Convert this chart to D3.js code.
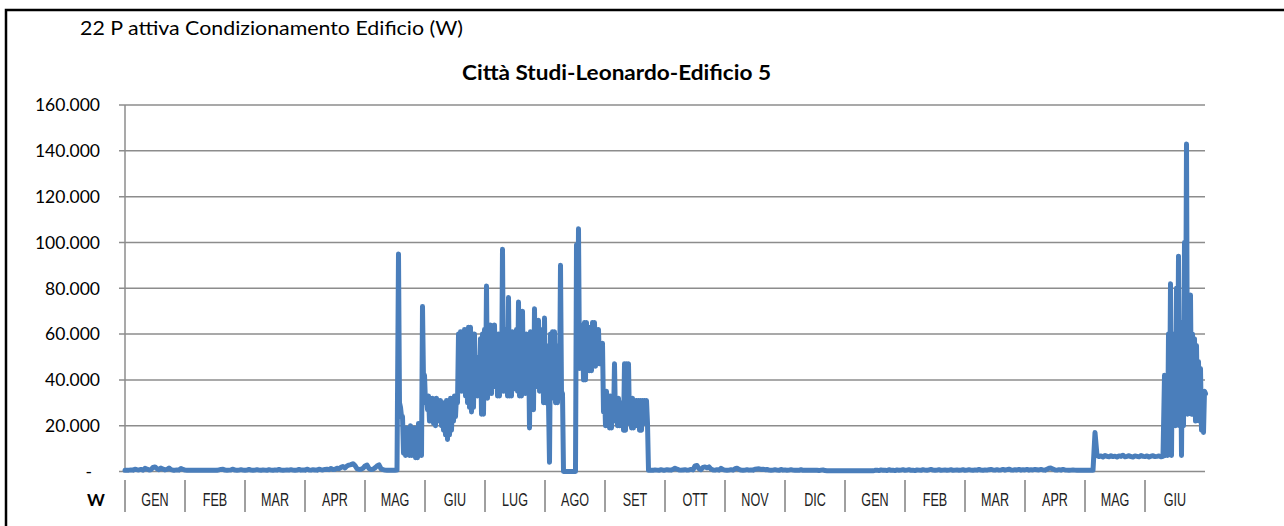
<!DOCTYPE html>
<html>
<head>
<meta charset="utf-8">
<script src="https://cdn.jsdelivr.net/npm/d3@7"></script>
<style>
  body { margin: 0; background: #fff; }
  svg { display: block; }
  text { font-family: Lato, "Open Sans", sans-serif; fill: #000; }
</style>
</head>
<body>
<div id="chart"></div>
<script>
// category axis: two seasons of months
var months = ["GEN","FEB","MAR","APR","MAG","GIU","LUG","AGO","SET","OTT","NOV","DIC","GEN","FEB","MAR","APR","MAG","GIU"];
var yTicks = [0, 20, 40, 60, 80, 100, 120, 140, 160]; // kW

// active power in kW, day 0 = 1 jan, 30 days per month
// jan -> early may, almost off (one reading a day)
var winterA = [
  0.5,0.6,0.6,0.7,0.6, 1.0,0.8,0.7,0.9,0.6, 1.4,1.0,0.7,0.8,1.8, 2.0,1.2,0.8,1.5,1.0,
  0.7,0.9,1.5,0.8,0.6, 0.6,0.7,0.6,1.3,0.9, 0.6,0.5,0.5,0.6,0.5, 0.5,0.6,0.5,0.5,0.6,
  0.5,0.6,0.5,0.5,0.6, 0.6,0.5,0.7,0.9,1.0, 0.6,0.5,0.6,0.7,1.0, 0.6,0.5,0.6,0.8,0.6,
  0.5,0.6,0.9,0.6,0.5, 0.6,0.8,0.6,0.5,0.7, 0.6,0.5,0.8,0.6,0.5, 0.7,0.6,0.9,0.6,0.5,
  0.6,0.7,0.6,0.8,0.6, 0.5,0.6,0.9,0.6,0.7, 0.6,1.0,0.7,0.6,0.8, 0.7,0.6,1.0,0.8,0.7,
  0.9,1.0,0.8,1.3,0.9, 1.0,1.4,1.2,1.8,2.2, 1.6,2.4,2.8,3.0,3.4, 2.6,1.2,0.9,1.0,1.4,
  2.4,2.8,1.3,0.9,1.0, 1.6,2.4,2.9,1.2,0.8, 0.6,0.5,0.5,0.5,0.6, 0.5,0.6
];
// may -> september, cooling season: daily peak and trough (days 137..262)
var summerPeak = [
  95,28,24,19,19,18,20,17,19,18,
  21,20,72,42,33,33,32,32,31,32,
  31,31,30,30,31,31,32,32,33,33,
  60,61,61,62,62,63,63,60,60,50,
  45,58,60,62,81,62,64,60,64,59,
  60,59,97,61,62,76,61,61,60,62,
  74,62,70,58,60,58,61,60,71,62,
  66,60,62,67,55,30,60,61,61,55,
  55,90,34,0,0,0,0,0,0,99,
  106,64,64,65,65,63,63,65,65,62,
  62,56,56,35,35,33,33,33,47,32,
  32,30,30,47,47,47,32,32,31,31,
  31,31,31,31,31,0.5
];
var summerLow = [
  30,24,8,7,8,7,7,7,6,6,
  7,7,40,30,27,22,22,21,20,22,
  22,20,18,16,14,16,18,22,24,30,
  35,35,38,33,30,28,26,28,33,33,
  37,25,25,32,32,34,34,37,37,33,
  33,35,35,36,33,33,33,36,36,35,
  33,33,35,34,34,19,27,27,37,37,
  35,35,30,30,30,4,32,32,30,30,
  34,34,0,0,0,0,0,0,0,45,
  45,45,40,40,47,44,44,46,46,47,
  47,47,26,20,20,19,19,22,22,20,
  20,20,18,18,21,21,19,19,20,20,
  18,18,21,21,21,0.5
];
// september -> april of the next year, off again (days 263..484)
var winterB = [
  0.6,0.5,0.7,0.6,0.5,0.8,0.6,
  0.6,0.8,0.7,0.6,0.9, 1.4,1.0,0.7,0.6,0.7, 0.8,0.6,0.7,0.9,0.7, 2.4,2.6,1.2,0.8,1.8, 2.0,1.6,2.0,1.0,0.7, 0.6,0.8,0.6,1.4,0.8,
  0.6,0.5,0.6,0.8,0.6, 1.2,1.4,0.9,0.6,0.5, 0.6,0.8,0.6,0.7,0.6, 1.0,1.1,1.2,0.9,1.0, 0.8,0.9,0.6,0.5,0.6, 0.8,0.6,0.5,0.9,0.6,
  0.7,0.5,0.6,0.8,0.6, 0.5,0.6,0.5,0.8,0.5, 0.6,0.5,0.5,0.6,0.5, 0.5,0.5,0.4,0.6,0.7, 0.4,0.3,0.3,0.3,0.3, 0.3,0.3,0.3,0.3,0.3,
  0.3,0.3,0.3,0.3,0.3, 0.3,0.3,0.3,0.3,0.3, 0.3,0.3,0.3,0.3,0.3, 0.5,0.6,0.4,0.7,0.5, 0.6,0.4,0.8,0.5,0.6, 0.4,0.7,0.5,0.6,0.8,
  0.5,0.6,0.8,0.5,0.6, 0.4,0.7,0.6,0.5,0.8, 0.6,0.5,0.7,0.9,0.6, 0.5,0.6,0.8,0.5,0.6, 0.7,0.5,0.6,0.8,0.5, 0.6,0.7,0.5,0.6,0.8,
  0.5,0.6,0.8,0.6,0.5, 0.7,0.6,0.9,0.6,0.5, 0.7,0.6,0.8,0.9,0.7, 0.6,0.8,0.6,0.7,0.9, 0.6,0.8,1.0,0.7,0.6, 0.8,0.7,0.9,0.6,0.8,
  0.7,0.9,0.6,0.8,0.7, 0.9,0.8,0.7,0.9,0.7, 0.6,1.0,1.4,1.5,1.0, 0.7,0.6,0.8,0.6,0.9, 0.7,0.6,0.5,0.6,0.7, 0.6,0.5,0.5,0.5,0.5,
  0.5,0.5,0.5,0.5,0.5
];
// may of the second year: base load (days 485..519)
var springFlat = [
  17,7,
  6.5,6.8,6.3,7.0,6.6, 6.4,6.9,6.5,6.7,6.3, 6.8,6.6,7.1,6.4,6.6, 6.9,6.5,6.3,6.8,6.6,
  6.4,7.0,6.6,6.5,6.8, 6.3,6.7,6.9,6.5,6.6, 6.8,6.4,6.6
];
// june of the second year: daily peak and trough (days 520..540)
var junePeak = [42,20,60,82,60,60,80,94,60,65,100,143,77,77,60,58,55,48,45,35,35];
var juneLow  = [7,7,20,7,25,20,30,20,7,20,40,25,30,25,25,22,25,22,18,17,34];

// build one time series of {day, kw}
var power = [];
function addDaily(values, start){
    values.forEach(function(v, i){ power.push({day: start + i, kw: v}); });
}
function addPairs(peaks, lows, start){
    peaks.forEach(function(v, i){
        power.push({day: start + i - 0.25, kw: v});
        power.push({day: start + i + 0.25, kw: lows[i]});
    });
}
addDaily(winterA, 0);
addPairs(summerPeak, summerLow, 137);
addDaily(winterB, 263);
addDaily(springFlat, 485);
addPairs(junePeak, juneLow, 520);

var width = 1284, height = 526;
var plotLeft = 125, plotRight = 1205, plotTop = 105, plotBottom = 471.5;

var svg = d3.select("#chart").append("svg")
    .attr("width", width)
    .attr("height", height);

// outer frame
svg.append("rect")
    .attr("x", 6).attr("y", 10)
    .attr("width", 1300).attr("height", 540)
    .attr("fill", "none")
    .attr("stroke", "#000")
    .attr("stroke-width", 2.5);

svg.append("text")
    .attr("x", 80).attr("y", 35)
    .attr("textLength", 383)
    .attr("lengthAdjust", "spacingAndGlyphs")
    .style("font-size", "20px")
    .text("22 P attiva Condizionamento Edificio (W)");

svg.append("text")
    .attr("x", 462).attr("y", 80)
    .attr("textLength", 309)
    .attr("lengthAdjust", "spacingAndGlyphs")
    .style("font-size", "21px")
    .style("font-weight", "bold")
    .text("Città Studi-Leonardo-Edificio 5");

var x = d3.scaleLinear()
    .domain([0, months.length * 30])
    .range([plotLeft, plotRight]);

var xMonth = d3.scaleBand()
    .domain(d3.range(months.length))
    .range([plotLeft, plotRight]);

var y = d3.scaleLinear()
    .domain([0, 160])
    .range([plotBottom, plotTop]);

var fmt = function(v){
    if (v === 0) return "-";
    return d3.format(",")(v * 1000).replace(/,/g, ".");
};

// gridlines + y labels
var yAxis = svg.append("g");
yAxis.selectAll("line.grid")
    .data(yTicks)
    .enter()
    .append("line")
    .attr("class", "grid")
    .attr("x1", plotLeft - 6).attr("x2", plotRight)
    .attr("y1", function(d){ return y(d); })
    .attr("y2", function(d){ return y(d); })
    .attr("stroke", "#8c8c8c")
    .attr("stroke-width", 1.5);

yAxis.selectAll("text")
    .data(yTicks)
    .enter()
    .append("text")
    .attr("x", function(d){ return d === 0 ? 92 : 100; })
    .attr("y", function(d){ return y(d); })
    .attr("dy", "0.36em")
    .attr("text-anchor", "end")
    .style("font-size", "17.5px")
    .text(fmt);

svg.append("line")
    .attr("x1", plotLeft).attr("x2", plotLeft)
    .attr("y1", plotTop).attr("y2", plotBottom)
    .attr("stroke", "#8c8c8c")
    .attr("stroke-width", 1.5);

// the series
var line = d3.line()
    .x(function(d){ return x(d.day); })
    .y(function(d){ return y(d.kw); });

svg.append("path")
    .datum(power)
    .attr("d", line)
    .attr("fill", "none")
    .attr("stroke", "#4a7ebb")
    .attr("stroke-width", 5)
    .attr("stroke-linejoin", "round")
    .attr("stroke-linecap", "round");

// month separators and labels under the axis
var xAxis = svg.append("g");
xAxis.selectAll("line")
    .data(d3.range(months.length))
    .enter()
    .append("line")
    .attr("x1", function(d){ return xMonth(d); })
    .attr("x2", function(d){ return xMonth(d); })
    .attr("y1", 480).attr("y2", 512)
    .attr("stroke", "#404040")
    .attr("stroke-width", 1);

xAxis.selectAll("text")
    .data(months)
    .enter()
    .append("text")
    .attr("transform", function(d, i){
        return "translate(" + (xMonth(i) + xMonth.bandwidth() / 2) + ",506) scale(0.7,1)";
    })
    .attr("text-anchor", "middle")
    .style("font-family", "'Liberation Sans Narrow', 'Arial Narrow', sans-serif")
    .style("font-size", "18px")
    .style("fill", "#222")
    .text(function(d){ return d; });

svg.append("text")
    .attr("x", 96).attr("y", 506)
    .attr("text-anchor", "middle")
    .style("font-size", "17px")
    .style("font-weight", "bold")
    .text("W");
</script>
</body>
</html>
